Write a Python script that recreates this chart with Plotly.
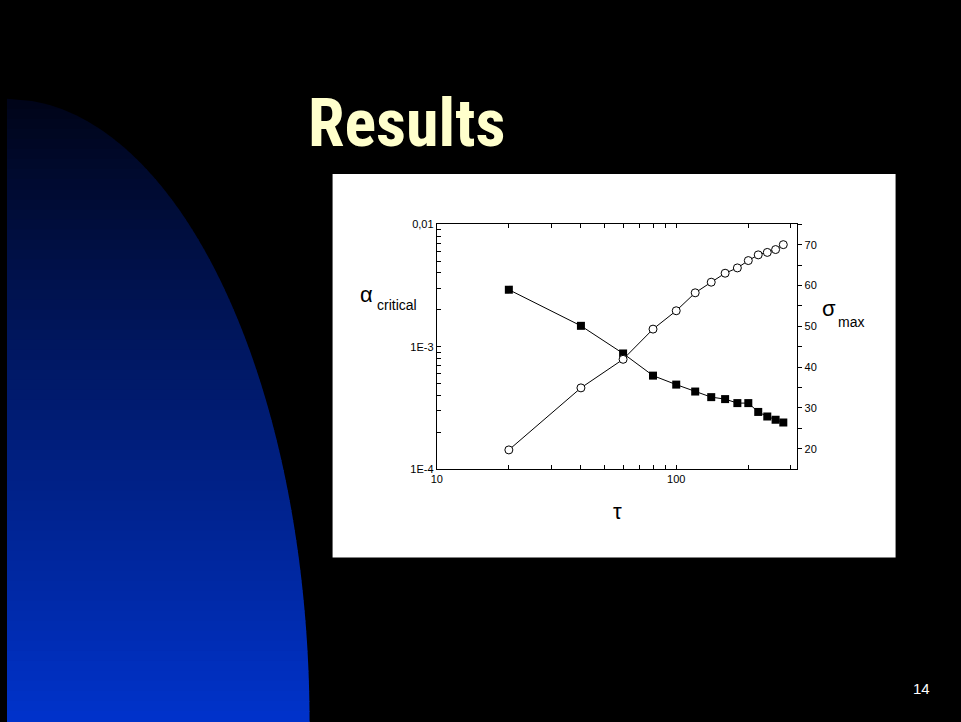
import numpy as np
import plotly.graph_objects as go

# ---- data ----
tau = [20, 40, 60, 80, 100, 120, 140, 160, 180, 200, 220, 240, 260, 280]
alpha_critical = [2.92e-3, 1.48e-3, 8.8e-4, 5.8e-4, 4.9e-4, 4.3e-4, 3.87e-4,
                  3.73e-4, 3.46e-4, 3.46e-4, 2.93e-4, 2.69e-4, 2.53e-4, 2.40e-4]
sigma_max = [19.7, 34.9, 41.9, 49.3, 53.8, 58.2, 60.8, 63.0, 64.3, 66.1,
             67.5, 68.1, 68.8, 70.0]

x_tickvals = [10, 20, 30, 40, 50, 60, 70, 80, 90, 100, 200, 300]
x_ticktext = ["10", "", "", "", "", "", "", "", "", "100", "", ""]
y_tickvals = [1e-4, 2e-4, 3e-4, 4e-4, 5e-4, 6e-4, 7e-4, 8e-4, 9e-4,
              1e-3, 2e-3, 3e-3, 4e-3, 5e-3, 6e-3, 7e-3, 8e-3, 9e-3, 1e-2]
y_ticktext = ["1E-4", "", "", "", "", "", "", "", "",
              "1E-3", "", "", "", "", "", "", "", "", "0,01"]
y2_tickvals = [20, 25, 30, 35, 40, 45, 50, 55, 60, 65, 70, 75]
y2_ticktext = ["20", "", "30", "", "40", "", "50", "", "60", "", "70", ""]

W, H = 961, 722
FONT = "Arial, Liberation Sans, sans-serif"

# layout positions are given in slide pixels; the page shows the figure with a
# small offset/scale, which these helpers compensate for
def X(x):
    return ((x - 7.0) / 0.992) / W

def Y(y):
    return 1 - ((y - 7.5) / 0.98) / H

# decorative slide background: banded blue gradient quarter-ellipse (shapes)
def ell_x(y):
    r = (722 - y) / 622
    return 8 + 302 * np.sqrt(max(0.0, 1 - r * r))

bg_shapes = []
edges = np.linspace(100, 730, 64)
top_c = np.array([0, 4, 24])
bot_c = np.array([0, 51, 204])
for i in range(len(edges) - 1):
    y0, y1 = edges[i], edges[i + 1] + 0.8
    ys = np.linspace(y0, y1, 6)
    pts = [(8, y0)] + [(ell_x(min(v, 722)), v) for v in ys] + [(8, y1)]
    path = "M " + " L ".join(f"{X(a):.5f},{Y(b):.5f}" for a, b in pts) + " Z"
    f = min(1.0, ((edges[i] + edges[i + 1]) / 2 - 100) / 622)
    c = top_c + (bot_c - top_c) * f
    bg_shapes.append(dict(type="path", xref="paper", yref="paper", layer="below",
                          path=path, fillcolor=f"rgb({c[0]:.0f},{c[1]:.0f},{c[2]:.0f})",
                          line_width=0))
bg_shapes.append(dict(type="rect", xref="paper", yref="paper", layer="below",
                      x0=X(333), x1=X(895), y0=Y(557), y1=Y(175),
                      fillcolor="white", line_width=0))

fig = go.Figure()
fig.add_trace(go.Scatter(
    x=tau, y=alpha_critical, mode="lines+markers",
    line=dict(color="black", width=1),
    marker=dict(symbol="square", size=8, color="black"),
    showlegend=False))
fig.add_trace(go.Scatter(
    x=tau, y=sigma_max, yaxis="y2", mode="lines+markers",
    line=dict(color="black", width=1),
    marker=dict(symbol="circle", size=8, color="white",
                line=dict(color="black", width=1)),
    showlegend=False))

axis_font = dict(family=FONT, size=11, color="black")

fig.update_layout(
    width=W, height=H, margin=dict(l=0, r=0, t=0, b=0),
    paper_bgcolor="black", plot_bgcolor="rgba(0,0,0,0)",
    xaxis=dict(type="log", range=[1, 2.506],
               domain=[X(437), X(797)], anchor="y",
               tickmode="array", tickvals=x_tickvals, ticktext=x_ticktext,
               ticks="inside", ticklen=4, tickcolor="black",
               showline=True, linecolor="black", linewidth=1, mirror="ticks",
               showgrid=False, zeroline=False, tickfont=axis_font),
    yaxis=dict(type="log", range=[-4, -2],
               domain=[Y(469), Y(225)], anchor="x",
               tickmode="array", tickvals=y_tickvals, ticktext=y_ticktext,
               ticks="inside", ticklen=4, tickcolor="black",
               showline=True, linecolor="black", linewidth=1,
               showgrid=False, zeroline=False, tickfont=axis_font),
    yaxis2=dict(overlaying="y", side="right", anchor="x", range=[15, 75],
                tickmode="array", tickvals=y2_tickvals, ticktext=y2_ticktext,
                ticks="outside", ticklen=4, tickcolor="black",
                showline=True, linecolor="black", linewidth=1,
                showgrid=False, zeroline=False, tickfont=axis_font),
    shapes=bg_shapes,
    annotations=[
        dict(text="<b>Results</b>", x=X(306), y=Y(125), xref="paper", yref="paper",
             xanchor="left", yanchor="middle", showarrow=False,
             font=dict(family="Roboto Condensed, Liberation Sans Narrow, sans-serif",
                       size=66, color="#FFFFCC")),
        dict(text="α", x=X(367), y=Y(295), xref="paper", yref="paper",
             xanchor="center", yanchor="middle", showarrow=False,
             font=dict(family=FONT, size=22, color="black")),
        dict(text="critical", x=X(375), y=Y(305), xref="paper", yref="paper",
             xanchor="left", yanchor="middle", showarrow=False,
             font=dict(family=FONT, size=14, color="black")),
        dict(text="σ", x=X(829), y=Y(309), xref="paper", yref="paper",
             xanchor="center", yanchor="middle", showarrow=False,
             font=dict(family=FONT, size=22, color="black")),
        dict(text="max", x=X(836), y=Y(322), xref="paper", yref="paper",
             xanchor="left", yanchor="middle", showarrow=False,
             font=dict(family=FONT, size=14, color="black")),
        dict(text="τ", x=X(617), y=Y(511), xref="paper", yref="paper",
             xanchor="center", yanchor="middle", showarrow=False,
             font=dict(family=FONT, size=22, color="black")),
        dict(text="14", x=X(921), y=Y(688), xref="paper", yref="paper",
             xanchor="center", yanchor="middle", showarrow=False,
             font=dict(family=FONT, size=15, color="white")),
    ],
)

# page styling: no body margin, slide frame (white top/left edge, black elsewhere)
page_css = ("document.body.style.margin='0';"
            "document.body.style.overflow='hidden';"
            "document.body.style.background='linear-gradient(to right, white 5px, transparent 5px),"
            " linear-gradient(to bottom, white 7px, black 7px)';")
fig.write_html("out.html", config={"displayModeBar": False},
               post_script="}).catch(function(e){});" + page_css + "(function(){")
